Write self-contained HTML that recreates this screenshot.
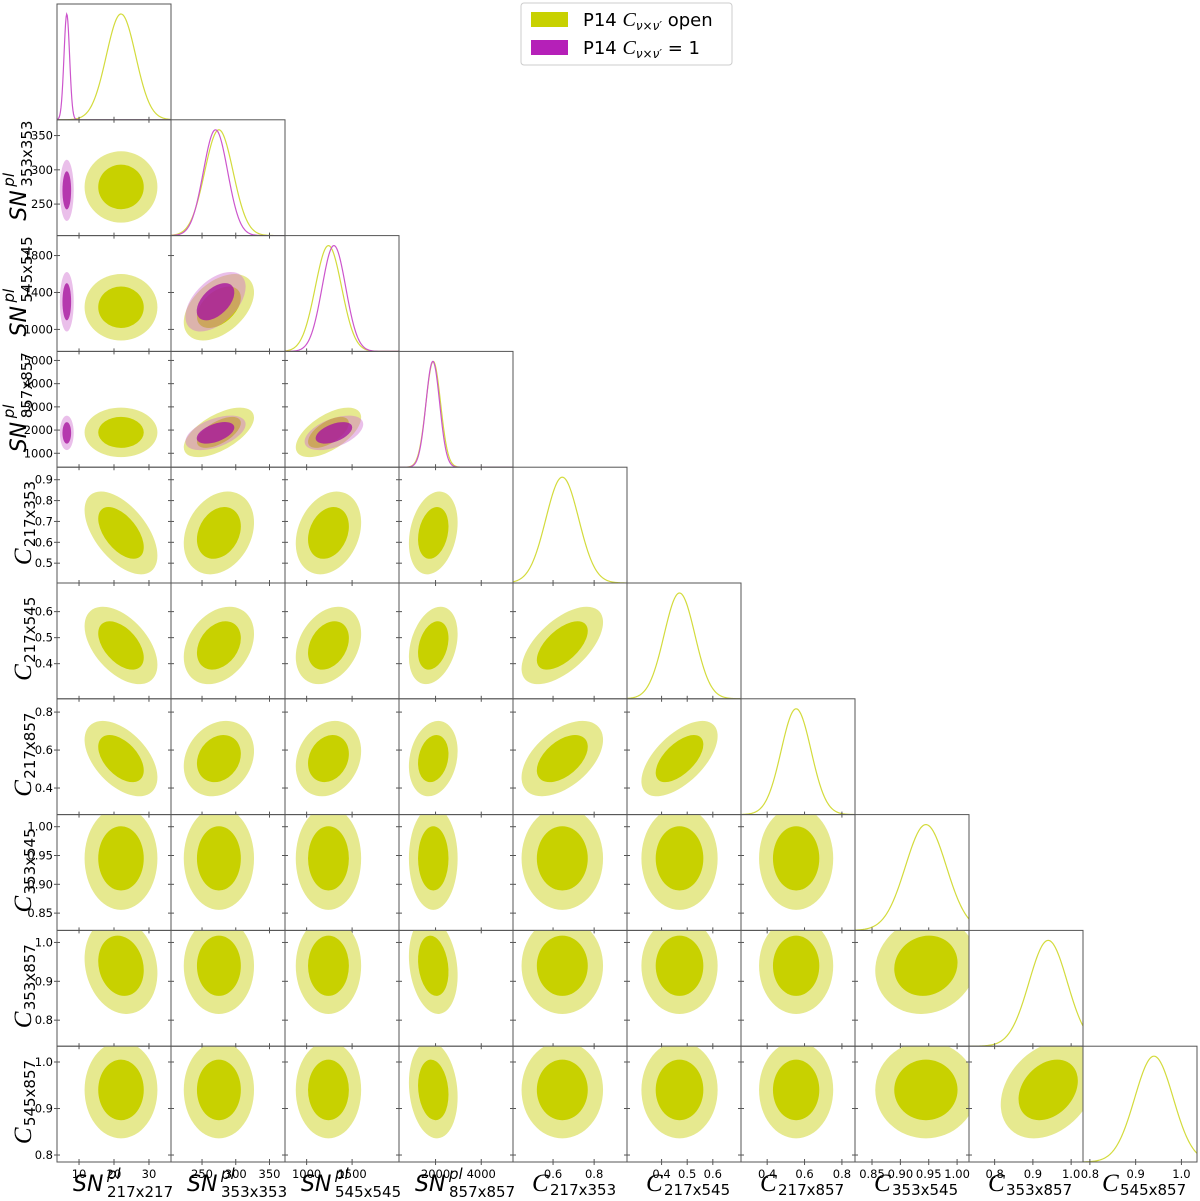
<!DOCTYPE html>
<html><head><meta charset="utf-8"><style>
body{margin:0;background:#fff;}
svg{display:block;font-family:"DejaVu Sans","Liberation Sans",sans-serif;}
</style></head><body>
<svg id="c" width="1200" height="1201" viewBox="0 0 1200 1201" xmlns="http://www.w3.org/2000/svg">
<defs id="defs"></defs>
<g id="panels"></g>
<g id="legend">
 <rect x="521" y="3" width="211" height="62" rx="3" fill="#fff" stroke="#ccc"/>
 <rect x="531" y="12" width="37" height="15" fill="#c8d100"/>
 <text x="583" y="26" font-size="18" fill="#000">P14 <tspan font-family="Liberation Serif" font-style="italic" font-size="20">C</tspan><tspan font-size="12" dy="4" font-style="italic">ν×ν′</tspan><tspan dy="-4"> open</tspan></text>
 <rect x="531" y="40" width="37" height="15" fill="#b520b8"/>
 <text x="583" y="54" font-size="18" fill="#000">P14 <tspan font-family="Liberation Serif" font-style="italic" font-size="20">C</tspan><tspan font-size="12" dy="4" font-style="italic">ν×ν′</tspan><tspan dy="-4"> = 1</tspan></text>
</g>
</svg>
<script>
const paramNames = ["SN217","SN353","SN545","SN857","C217x353","C217x545","C217x857","C353x545","C353x857","C545x857"];
const titleMain = ["SN","SN","SN","SN","C","C","C","C","C","C"];
const titleSub = ["217x217","353x353","545x545","857x857","217x353","217x545","217x857","353x545","353x857","545x857"];
const rangeLo = [3.7,204,762,400,0.405,0.265,0.26,0.82,0.733,0.785];
const rangeHi = [36.3,373,2016,5390,0.96,0.71,0.87,1.021,1.031,1.034];
const openMean = [22,275,1240,1900,0.645,0.47,0.555,0.945,0.94,0.94];
const openSigma = [4.2,21,145,430,0.08,0.06,0.08,0.036,0.05,0.042];
const fixedMean = [6.5,270,1300,1880];
const fixedSigma = [0.8,18,130,300];
const openCorr = [[0,4,-0.55],[0,5,-0.5],[0,6,-0.5],[1,2,0.45],[1,3,0.6],[2,3,0.6],[4,5,0.6],[4,6,0.5],[5,6,0.6],[8,9,0.3],
  [1,4,0.25],[2,4,0.25],[3,4,0.25],[1,5,0.3],[2,5,0.3],[3,5,0.3],[1,6,0.2],[2,6,0.2],[3,6,0.2],[7,8,0.1],[0,8,-0.15],[3,8,-0.2],[3,9,-0.15]];
const fixedCorr = [[1,2,0.5],[1,3,0.5],[2,3,0.5]];
const yTickVals = [[],[250,300,350],[1000,1400,1800],[1000,2000,3000,4000,5000],[0.5,0.6,0.7,0.8,0.9],[0.4,0.5,0.6],[0.4,0.6,0.8],[0.85,0.90,0.95,1.00],[0.8,0.9,1.0],[0.8,0.9,1.0]];
const xTickVals = [[10,20,30],[250,300,350],[1000,1500],[2000,4000],[0.6,0.8],[0.4,0.5,0.6],[0.4,0.6,0.8],[0.85,0.90,0.95,1.00],[0.8,0.9,1.0],[0.8,0.9,1.0]];
const xTickText = [["10","20","30"],["250","300","350"],["1000","1500"],["2000","4000"],["0.6","0.8"],["0.4","0.5","0.6"],["0.4","0.6","0.8"],["0.85","0.90","0.95","1.00"],["0.8","0.9","1.0"],["0.8","0.9","1.0"]];
const yTickText = [[],["250","300","350"],["1000","1400","1800"],["1000","2000","3000","4000","5000"],["0.5","0.6","0.7","0.8","0.9"],["0.4","0.5","0.6"],["0.4","0.6","0.8"],["0.85","0.90","0.95","1.00"],["0.8","0.9","1.0"],["0.8","0.9","1.0"]];

const NS="http://www.w3.org/2000/svg";
const L=57,T=4,PW=114,PH=115.8,N=10;
const G=document.getElementById('panels'),defs=document.getElementById('defs');
function el(t,a,p){const e=document.createElementNS(NS,t);for(const k in a)e.setAttribute(k,a[k]);(p||G).appendChild(e);return e;}
function xPix(i,v){return L+i*PW+(v-rangeLo[i])/(rangeHi[i]-rangeLo[i])*PW;}
function yPix(j,v){return T+(j+1)*PH-(v-rangeLo[j])/(rangeHi[j]-rangeLo[j])*PH;}
function corr(list,a,b){for(const c of list){if(c[0]===a&&c[1]===b)return c[2];if(c[0]===b&&c[1]===a)return c[2];}return 0;}
function ellipse(g,i,j,m,s,rho,k,fill,op){
  const cx=xPix(i,m[i]),cy=yPix(j,m[j]);
  const sx=s[i]*PW/(rangeHi[i]-rangeLo[i]),sy=s[j]*PH/(rangeHi[j]-rangeLo[j]);
  const a=sx*sx,b=sy*sy,c=-rho*sx*sy;
  const th=0.5*Math.atan2(2*c,a-b);
  const h=Math.sqrt(((a-b)/2)**2+c*c);
  const l1=(a+b)/2+h,l2=Math.max((a+b)/2-h,0.01);
  return el('ellipse',{cx:cx,cy:cy,rx:k*Math.sqrt(l1),ry:k*Math.sqrt(l2),transform:`rotate(${th*180/Math.PI} ${cx} ${cy})`,fill:fill,'fill-opacity':op},g);
}
for(let r=0;r<N;r++){
  for(let c=0;c<=r;c++){
    const x0=L+c*PW,y0=T+r*PH;
    const g=el('g',{});
    
    
    const cp=el('clipPath',{id:`cp${r}_${c}`},defs);
    el('rect',{x:x0,y:y0,width:PW,height:PH},cp);
    const inner=el('g',{'clip-path':`url(#cp${r}_${c})`},g);
    if(r===c){
      const series=[[openMean,openSigma,'#d3db3c','diag-open']];
      if(c<4) series.push([fixedMean,fixedSigma,'#cc55cc','diag-fixed']);
      for(const [m,s0,col,nm] of series){
        const sd=(c===3&&nm==='diag-open')?320:s0[c];
        let d='';
        for(let p=0;p<=200;p++){
          const v=rangeLo[c]+(rangeHi[c]-rangeLo[c])*p/200;
          const f=Math.exp(-0.5*((v-m[c])/sd)**2);
          d+=(p?'L':'M')+xPix(c,v).toFixed(2)+','+(y0+PH-f*(PH-10)).toFixed(2);
        }
        const pth=el('path',{d:d,fill:'none',stroke:col,'stroke-width':1.2},inner);
        
        
      }
    } else {
      const ro=corr(openCorr,c,r);
      const e1=ellipse(inner,c,r,openMean,openSigma,ro,2.48,'#e6e98f',1);
      
      
      const e2=ellipse(inner,c,r,openMean,openSigma,ro,1.55,'#c8d100',1);
      
      
      if(c<4&&r<4){
        const rf=corr(fixedCorr,c,r);
        const f1=ellipse(inner,c,r,fixedMean,fixedSigma,rf,2.48,'#d070d0',0.45);
        
        
        const f2=ellipse(inner,c,r,fixedMean,fixedSigma,rf,1.55,'#a8179f',0.8);
        
        
      }
    }
    const fr=el('rect',{x:x0,y:y0,width:PW,height:PH,fill:'none',stroke:'#555','stroke-width':1},g);
    
    
    xTickVals[c].forEach((v,k)=>{
      const xp=xPix(c,v);
      el('line',{x1:xp,x2:xp,y1:y0+PH-3,y2:y0+PH+3,stroke:'#555'},g);
      if(r===N-1){
        const t=el('text',{x:xp,y:y0+PH+16,'font-size':11.5,'text-anchor':'middle',fill:'#000'},g);
        t.textContent=xTickText[c][k];
        
        
      }
    });
    if(r!==c){
      yTickVals[r].forEach((v,k)=>{
        const yp=yPix(r,v);
        el('line',{x1:x0-3,x2:x0+3,y1:yp,y2:yp,stroke:'#555'},g);
        if(c===0){
          const t=el('text',{x:x0-4,y:yp+4,'font-size':11.5,'text-anchor':'end',fill:'#000'},g);
          t.textContent=yTickText[r][k];
          
          
        }
      });
    }
  }
}
function title(i,tx,ty,rot,nm){
  const g=el('g',{transform:rot?`translate(${tx} ${ty}) rotate(-90)`:`translate(${tx} ${ty})`});
  
  
  const isSN=titleMain[i]==='SN';
  if(isSN){
    const a=el('text',{x:-43,y:0,'font-size':22,'font-style':'italic',fill:'#000'},g);a.textContent='SN';
    const b=el('text',{x:-9,y:-12,'font-size':15,'font-style':'italic',fill:'#000'},g);b.textContent='pl';
    const s=el('text',{x:-9,y:6,'font-size':15,fill:'#000'},g);s.textContent=titleSub[i];
  } else {
    const a=el('text',{x:-40,y:0,'font-size':25,'font-style':'italic','font-family':'Liberation Serif',fill:'#000'},g);a.textContent='C';
    const s=el('text',{x:-22,y:4,'font-size':15,fill:'#000'},g);s.textContent=titleSub[i];
  }
}
for(let i=0;i<N;i++){
  title(i,L+i*PW+PW/2+2,1191,false,`x-axis-title-${paramNames[i]}`);
  if(i>0) title(i,titleMain[i]==='SN'?26:31,T+i*PH+PH/2,true,`y-axis-title-${paramNames[i]}`);
}
</script>
</body></html>
